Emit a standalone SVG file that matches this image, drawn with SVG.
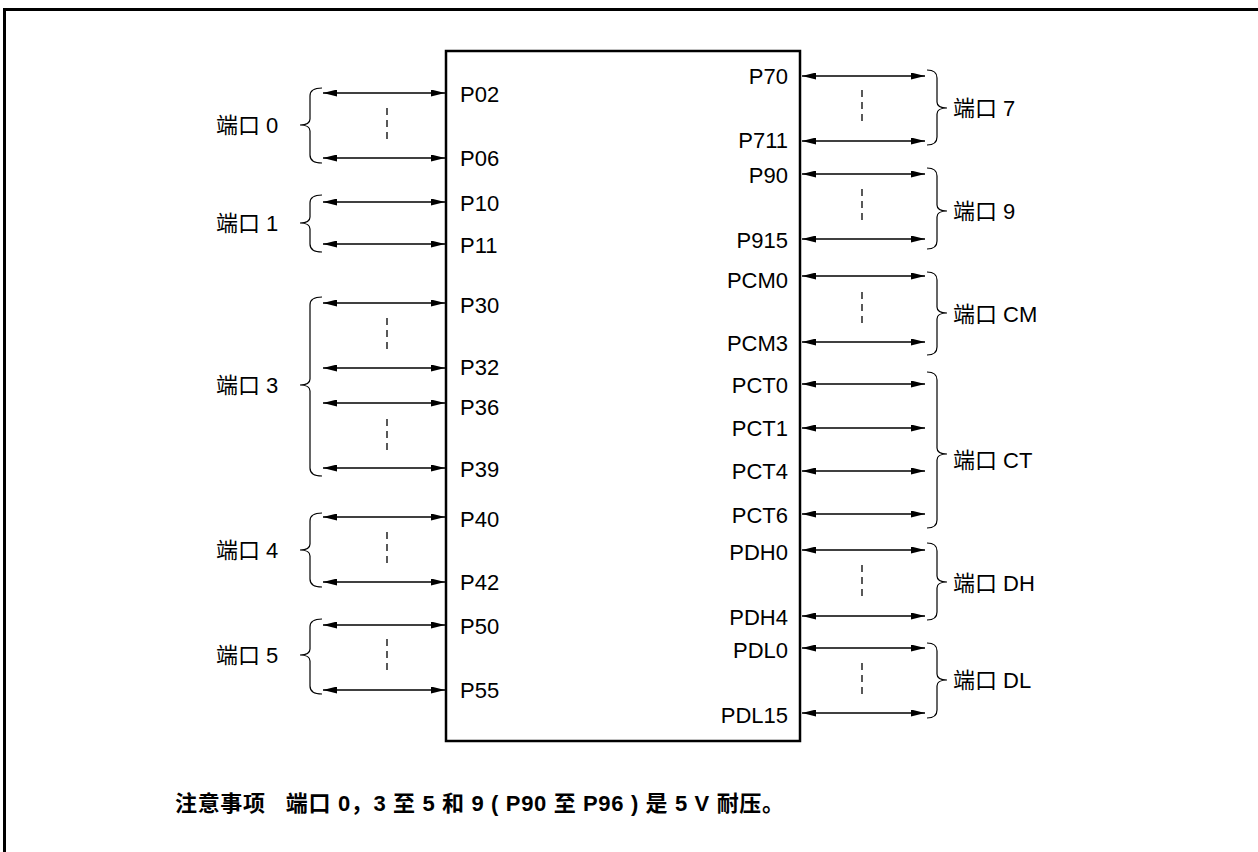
<svg xmlns="http://www.w3.org/2000/svg" width="1258" height="852" viewBox="0 0 1258 852">
<style>
.lbl{font-family:"Liberation Sans","Noto Sans CJK SC",sans-serif;font-size:22px;fill:#000}
.port{font-family:"Liberation Sans","Noto Sans CJK SC",sans-serif;font-size:22px;fill:#000}
.r{text-anchor:end}
.conn line{stroke:#000;stroke-width:1.3;marker-start:url(#ah);marker-end:url(#ah)}
.dash{stroke:#000;stroke-width:1.3;stroke-dasharray:7 5;fill:none}
.brace{stroke:#000;stroke-width:1.2;fill:none}
.note{font-family:"Liberation Sans","Noto Sans CJK SC",sans-serif;font-size:22px;font-weight:bold;fill:#000}
</style>
<defs>
<marker id="ah" viewBox="0 0 14 7" refX="14" refY="3.5" markerWidth="14" markerHeight="7" markerUnits="userSpaceOnUse" orient="auto-start-reverse">
<path d="M0,0 L14,3.5 L0,7 z" fill="#000"/>
</marker>
</defs>
<rect width="1258" height="852" fill="#fff"/>
<path id="frame" d="M4.5,852 V9.5 H1258" fill="none" stroke="#000" stroke-width="3"/>
<g id="chip">
<rect x="446" y="51" width="354" height="690" fill="none" stroke="#000" stroke-width="2.5"/>
<text class="lbl" x="460" y="102">P02</text>
<text class="lbl" x="460" y="166">P06</text>
<text class="lbl" x="460" y="211">P10</text>
<text class="lbl" x="460" y="253">P11</text>
<text class="lbl" x="460" y="313">P30</text>
<text class="lbl" x="460" y="375">P32</text>
<text class="lbl" x="460" y="415">P36</text>
<text class="lbl" x="460" y="477">P39</text>
<text class="lbl" x="460" y="527">P40</text>
<text class="lbl" x="460" y="590">P42</text>
<text class="lbl" x="460" y="634">P50</text>
<text class="lbl" x="460" y="698">P55</text>
<text class="lbl r" x="788" y="84">P70</text>
<text class="lbl r" x="788" y="148">P711</text>
<text class="lbl r" x="788" y="183">P90</text>
<text class="lbl r" x="788" y="248">P915</text>
<text class="lbl r" x="788" y="288">PCM0</text>
<text class="lbl r" x="788" y="351">PCM3</text>
<text class="lbl r" x="788" y="393">PCT0</text>
<text class="lbl r" x="788" y="436">PCT1</text>
<text class="lbl r" x="788" y="479">PCT4</text>
<text class="lbl r" x="788" y="523">PCT6</text>
<text class="lbl r" x="788" y="560">PDH0</text>
<text class="lbl r" x="788" y="625">PDH4</text>
<text class="lbl r" x="788" y="658">PDL0</text>
<text class="lbl r" x="788" y="723">PDL15</text>
</g>
<g id="connectors" class="conn">
<line x1="323" y1="93" x2="445" y2="93"/>
<line x1="323" y1="158" x2="445" y2="158"/>
<line x1="323" y1="202" x2="445" y2="202"/>
<line x1="323" y1="244" x2="445" y2="244"/>
<line x1="323" y1="303" x2="445" y2="303"/>
<line x1="323" y1="368" x2="445" y2="368"/>
<line x1="323" y1="403" x2="445" y2="403"/>
<line x1="323" y1="468" x2="445" y2="468"/>
<line x1="323" y1="517" x2="445" y2="517"/>
<line x1="323" y1="582" x2="445" y2="582"/>
<line x1="323" y1="625" x2="445" y2="625"/>
<line x1="323" y1="690" x2="445" y2="690"/>
<line x1="802" y1="76" x2="925" y2="76"/>
<line x1="802" y1="141" x2="925" y2="141"/>
<line x1="802" y1="174" x2="925" y2="174"/>
<line x1="802" y1="239" x2="925" y2="239"/>
<line x1="802" y1="276" x2="925" y2="276"/>
<line x1="802" y1="342" x2="925" y2="342"/>
<line x1="802" y1="384" x2="925" y2="384"/>
<line x1="802" y1="428" x2="925" y2="428"/>
<line x1="802" y1="471" x2="925" y2="471"/>
<line x1="802" y1="514" x2="925" y2="514"/>
<line x1="802" y1="550" x2="925" y2="550"/>
<line x1="802" y1="616" x2="925" y2="616"/>
<line x1="802" y1="648" x2="925" y2="648"/>
<line x1="802" y1="713" x2="925" y2="713"/>
</g>
<g id="ellipses">
<line class="dash" x1="387" y1="108" x2="387" y2="139"/>
<line class="dash" x1="387" y1="318" x2="387" y2="349"/>
<line class="dash" x1="387" y1="419" x2="387" y2="450"/>
<line class="dash" x1="387" y1="532" x2="387" y2="563"/>
<line class="dash" x1="387" y1="639" x2="387" y2="670"/>
<line class="dash" x1="862" y1="90" x2="862" y2="121"/>
<line class="dash" x1="862" y1="189" x2="862" y2="220"/>
<line class="dash" x1="862" y1="292" x2="862" y2="323"/>
<line class="dash" x1="862" y1="565" x2="862" y2="596"/>
<line class="dash" x1="862" y1="663" x2="862" y2="694"/>
</g>
<g id="port0">
<path class="brace" d="M322,88 Q310,88 310,96 V119 Q310,125 300,125 Q310,125 310,131 V155 Q310,163 322,163"/>
<text class="port" x="216" y="133">端口 0</text>
</g>
<g id="port1">
<path class="brace" d="M322,195 Q310,195 310,203 V217 Q310,223 300,223 Q310,223 310,229 V244 Q310,252 322,252"/>
<text class="port" x="216" y="231">端口 1</text>
</g>
<g id="port3">
<path class="brace" d="M322,297 Q310,297 310,305 V379 Q310,385 300,385 Q310,385 310,391 V468 Q310,476 322,476"/>
<text class="port" x="216" y="393">端口 3</text>
</g>
<g id="port4">
<path class="brace" d="M322,513 Q310,513 310,521 V544 Q310,550 300,550 Q310,550 310,556 V579 Q310,587 322,587"/>
<text class="port" x="216" y="558">端口 4</text>
</g>
<g id="port5">
<path class="brace" d="M322,619 Q310,619 310,627 V649 Q310,655 300,655 Q310,655 310,661 V686 Q310,694 322,694"/>
<text class="port" x="216" y="663">端口 5</text>
</g>
<g id="port7">
<path class="brace" d="M927,70 Q937,70 937,78 V102 Q937,108 947,108 Q937,108 937,114 V137 Q937,145 927,145"/>
<text class="port" x="953" y="116">端口 7</text>
</g>
<g id="port9">
<path class="brace" d="M927,168 Q937,168 937,176 V205 Q937,211 947,211 Q937,211 937,217 V241 Q937,249 927,249"/>
<text class="port" x="953" y="219">端口 9</text>
</g>
<g id="portCM">
<path class="brace" d="M927,272 Q937,272 937,280 V307 Q937,313 947,313 Q937,313 937,319 V347 Q937,355 927,355"/>
<text class="port" x="953" y="322">端口 CM</text>
</g>
<g id="portCT">
<path class="brace" d="M927,372 Q937,372 937,380 V448 Q937,454 947,454 Q937,454 937,460 V520 Q937,528 927,528"/>
<text class="port" x="953" y="468">端口 CT</text>
</g>
<g id="portDH">
<path class="brace" d="M927,543 Q937,543 937,551 V576 Q937,582 947,582 Q937,582 937,588 V612 Q937,620 927,620"/>
<text class="port" x="953" y="591">端口 DH</text>
</g>
<g id="portDL">
<path class="brace" d="M927,643 Q937,643 937,651 V674 Q937,680 947,680 Q937,680 937,686 V710 Q937,718 927,718"/>
<text class="port" x="953" y="688">端口 DL</text>
</g>
<text class="note" x="175" y="811" xml:space="preserve" textLength="609" lengthAdjust="spacing">注意事项   端口 0，3 至 5 和 9 ( P90 至 P96 ) 是 5 V 耐压。</text>
</svg>
